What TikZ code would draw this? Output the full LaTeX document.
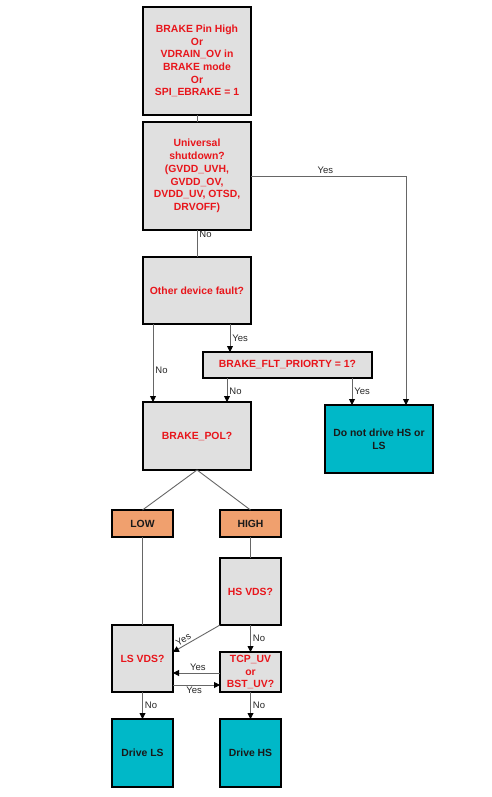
\documentclass[tikz,border=0pt]{standalone}
\usepackage{fontspec}
\setmainfont{Liberation Sans}
\usetikzlibrary{positioning,arrows.meta,calc}
\definecolor{Testcol}{HTML}{E0E0E0}
\definecolor{Drivecol}{HTML}{00B8C8}
\definecolor{Polcol}{HTML}{F0A06E}
\definecolor{Askcol}{HTML}{E8151B}
\definecolor{Linecol}{HTML}{666666}
\tikzstyle{flow} = [-{Triangle[length=6pt,width=6pt,color=black]},Linecol,line width=0.9pt]
\tikzstyle{link} = [Linecol,line width=0.9pt]
\tikzstyle{lbl}  = [text=black!85,font=\fontsize{9.5}{11}\selectfont,inner sep=2pt]
\tikzset{
  basic box/.style = {
    shape = rectangle,
    draw,
    line width=1.3pt,
    outer sep=0pt,
    inner sep=2pt,
    align=center,
    font=\fontsize{10.4}{12.7}\selectfont\bfseries,
    },
  test box/.style 2 args = {
    basic box,
    fill = Testcol,
    text = Askcol,
    minimum width = #1,
    minimum height = #2,},
  drive box/.style 2 args = {
    basic box,
    fill = Drivecol,
    text = black!90,
    minimum width = #1,
    minimum height = #2,},
  pol box/.style = {
    basic box,
    fill = Polcol,
    text = black!90,
    minimum width = 61pt,
    minimum height = 27pt,},
}

\begin{document}
\begin{tikzpicture}[x=1pt,y=-1pt]
    \useasboundingbox (0,0) rectangle (492,797);

    % checks
    \node [test box={108pt}{108pt}] (brake) at (197,61) {BRAKE Pin High\\Or\\VDRAIN\_OV in\\BRAKE mode\\Or\\SPI\_EBRAKE = 1};
    \node [test box={108pt}{108pt}, below=7pt of brake] (univ) {Universal\\shutdown?\\(GVDD\_UVH,\\GVDD\_OV,\\DVDD\_UV, OTSD,\\DRVOFF)};
    \node [test box={108pt}{67pt}, below=27pt of univ] (fault) {Other device fault?};
    \node [test box={169pt}{26pt}] (flt) at (287.5,365) {BRAKE\_FLT\_PRIORTY = 1?};
    \node [test box={108pt}{68pt}, below=78pt of fault] (pol) {BRAKE\_POL?};
    \node [drive box={108pt}{68pt}] (stop) at (379,439) {Do not drive HS or\\LS};

    % polarity
    \node [pol box] (low) at (142.5,523.5) {LOW};
    \node [pol box] (high) at (250.5,523.5) {HIGH};

    \node [test box={61pt}{67pt}, below=21pt of high] (hsvds) {HS VDS?};
    \node [test box={61pt}{67pt}] (lsvds) at (142.5,658.5) {LS VDS?};
    \node [test box={61pt}{40pt}, below=27pt of hsvds] (tcp) {TCP\_UV\\or\\BST\_UV?};

    \node [drive box={61pt}{68pt}, below=27pt of lsvds] (drivels) {Drive LS};
    \node [drive box={61pt}{68pt}, below=27pt of tcp] (drivehs) {Drive HS};

    % Paths
    \draw[link] (brake) -- (univ);
    \draw[flow] (univ.east) -| node[lbl,pos=.24,above] {Yes} ([xshift=27pt]stop.north);
    \draw[link] (univ) -- node[lbl,pos=.15,right] {No} (fault);

    \draw[flow] ([xshift=33pt]fault.south) -- node[lbl,right] {Yes} ([xshift=33pt]fault.south |- flt.north);
    \draw[flow] ([xshift=-44pt]fault.south) -- node[lbl,pos=.59,right] {No} ([xshift=-44pt]pol.north);
    \draw[flow] ([xshift=30pt]pol.north |- flt.south) -- node[lbl,pos=.55,right] {No} ([xshift=30pt]pol.north);
    \draw[flow] ([xshift=-27pt]stop.north |- flt.south) -- node[lbl,pos=.5,right] {Yes} ([xshift=-27pt]stop.north);

    \draw[link] (pol.south) -- (low.north);
    \draw[link] (pol.south) -- (high.north);
    \draw[link] (low) -- (lsvds);
    \draw[link] (high) -- (hsvds);

    \draw[flow] (hsvds.south west) -- node[lbl,pos=.72,sloped,above] {Yes} ([yshift=6.5pt]lsvds.east);
    \draw[flow] (hsvds) -- node[lbl,right] {No} (tcp);
    \draw[flow] ([yshift=-1pt]tcp.west) -- node[lbl,pos=.47,above] {Yes} ([yshift=-1pt]tcp.west -| lsvds.east);
    \draw[flow] ([yshift=-13pt]tcp.west -| lsvds.east) -- node[lbl,pos=.45,below] {Yes} ([yshift=-13pt]tcp.west);
    \draw[flow] (lsvds) -- node[lbl,right] {No} (drivels);
    \draw[flow] (tcp) -- node[lbl,right] {No} (drivehs);

\end{tikzpicture}
\end{document}
